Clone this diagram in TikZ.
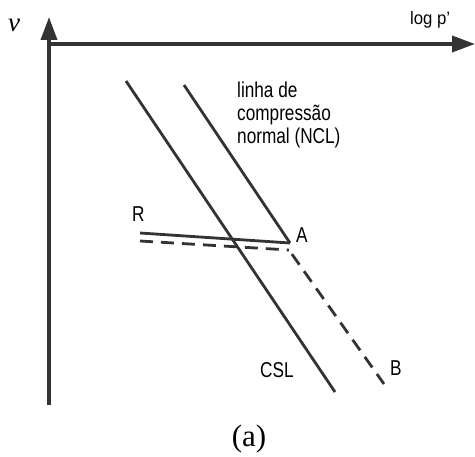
\documentclass[tikz,border=0pt]{standalone}
\usepackage{fontspec}
\setmainfont{Liberation Sans}
\newfontfamily\narrowf[FakeStretch=0.8]{Liberation Sans}
\newfontfamily\semif[FakeStretch=0.93]{Liberation Sans}
\newfontfamily\serifff{Liberation Serif}
\usetikzlibrary{arrows.meta}
\begin{document}
\begin{tikzpicture}[x=1pt,y=-1pt,
  ax/.style={line width=3.6pt,draw=black!80,-{Triangle[length=23pt,width=16pt]}},
  ln/.style={line width=2.8pt,draw=black!80},
  dl/.style={ln,dash pattern=on 13pt off 8pt},
  lbl/.style={font=\narrowf\fontsize{21.5}{23}\selectfont,inner sep=0pt,text=black}]
\useasboundingbox (0,0) rectangle (475,457);
\coordinate (O) at (49,44);
\coordinate (Ytop) at (49,17);
\coordinate (Ybot) at (49,405);
\coordinate (Xend) at (475,44);
\draw[ax] (Ybot) -- (Ytop);
\draw[ax] (O) -- (Xend);
\node[inner sep=0pt,anchor=base] (v) at (14,32) {\serifff\itshape\fontsize{27}{27}\selectfont v};
\node[inner sep=0pt,anchor=base west] (logp) at (410,25) {\semif\fontsize{18}{18}\selectfont log p’};
% CSL
\coordinate (c1) at (126,81);
\coordinate (c2) at (335,392);
\draw[ln] (c1) -- (c2);
% NCL
\coordinate (n1) at (184,85);
\coordinate (A) at (290,243);
\draw[ln] (n1) -- (A);
% unloading
\coordinate (R1) at (140,233);
\draw[ln] (R1) -- (A);
\coordinate (R2) at (140,241);
\coordinate (A2) at (289,250);
\draw[dl] (R2) -- (A2);
\coordinate (B) at (384,384);
\draw[dl,dash phase=16pt] (A2) -- (B);
\node[lbl,anchor=north west,align=left] (ncl) at (237,82) {linha de\\compressão\\normal (NCL)};
\node[lbl,anchor=base west] (Rl) at (132,222) {R};
\node[lbl,anchor=base west] (Al) at (296,243) {A};
\node[lbl,anchor=base west] (Bl) at (390,376) {B};
\node[lbl,anchor=base west] (csl) at (260,378) {CSL};
\node[inner sep=0pt,anchor=base] (a) at (249,447) {\serifff\fontsize{31}{31}\selectfont (a)};
\end{tikzpicture}
\end{document}
